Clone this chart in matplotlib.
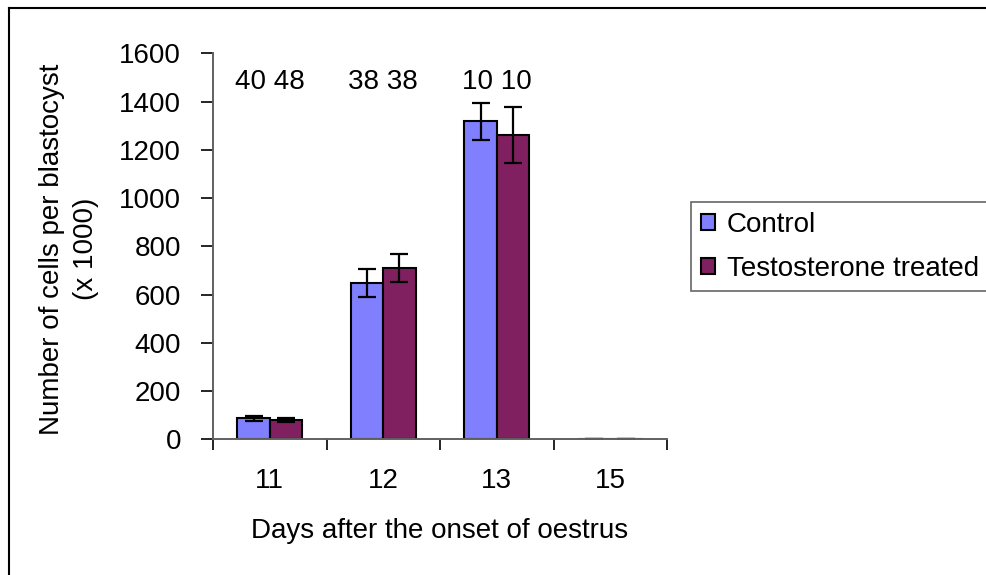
import numpy as np
import matplotlib.pyplot as plt
from matplotlib.lines import Line2D

plt.rcParams['font.family'] = ['Liberation Sans', 'DejaVu Sans']

days = ['11', '12', '13', '15']
control = [87, 648, 1318, 2]
control_err = [11, 58, 76, 0]
testo = [80, 710, 1262, 2]
testo_err = [9, 58, 117, 0]
counts = ['40 48', '38 38', '10 10', '']

c_control = '#8080FF'
c_testo = '#802060'
fs = 20

fig = plt.figure(figsize=(9.86, 5.75), dpi=100)
ax = fig.add_axes([213/986, 1-439.3/575, 454/986, 386/575])

x = np.arange(len(days))
w = 1/3.5
ekw = dict(ecolor='black', elinewidth=1.6, capsize=6.5, capthick=1.6)
ax.bar(x - w/2, control, w, color=c_control, edgecolor='black', linewidth=1.5,
       yerr=control_err, error_kw=ekw, label='Control', zorder=2)
ax.bar(x + w/2, testo, w, color=c_testo, edgecolor='black', linewidth=1.5,
       yerr=testo_err, error_kw=ekw, label='Testosterone treated', zorder=2)

for xi, s in zip(x, counts):
    ax.text(xi, 1480, s, ha='center', va='center', fontsize=fs)

ax.set_xlim(-0.5, len(days) - 0.5)
ax.set_ylim(0, 1600)
ax.set_yticks(np.arange(0, 1601, 200))
ax.set_xticks(np.arange(-0.5, len(days)), [''] * (len(days) + 1))
ax.set_xticks(x, days, minor=True)
ax.tick_params(axis='x', which='major', length=8, width=1.2, direction='out', color='black')
ax.tick_params(axis='x', which='minor', length=0, pad=21, labelsize=fs)
ax.tick_params(axis='y', length=9, width=1.2, direction='out', pad=14, labelsize=fs)
for s in ['top', 'right']:
    ax.spines[s].set_visible(False)
for s in ['left', 'bottom']:
    ax.spines[s].set_color('#606060')
    ax.spines[s].set_linewidth(1.4)

fig.text(69/986, 1-249/575, 'Number of cells per blastocyst\n(x 1000)', rotation=90,
         ha='center', va='center', fontsize=fs, multialignment='center', linespacing=1.4)
fig.text(440/986, 1-531/575, 'Days after the onset of oestrus', ha='center', va='center', fontsize=fs)

leg = ax.legend(loc='upper left', bbox_to_anchor=(691/986, 1-202/575), bbox_transform=fig.transFigure,
                fontsize=fs, frameon=True, fancybox=False, handlelength=0.5, handleheight=0.5,
                handletextpad=0.45, borderpad=0.35, labelspacing=0.65, borderaxespad=0)
leg.get_frame().set_edgecolor('#404040')
leg.get_frame().set_linewidth(1.2)

# outer border (top and left only, like the cropped original)
fig.add_artist(Line2D([9/986, 1], [1-8/575, 1-8/575], color='black', lw=1.5, transform=fig.transFigure))
fig.add_artist(Line2D([9/986, 9/986], [0, 1-8/575], color='black', lw=1.5, transform=fig.transFigure))

fig.savefig('out.png', dpi=100)
